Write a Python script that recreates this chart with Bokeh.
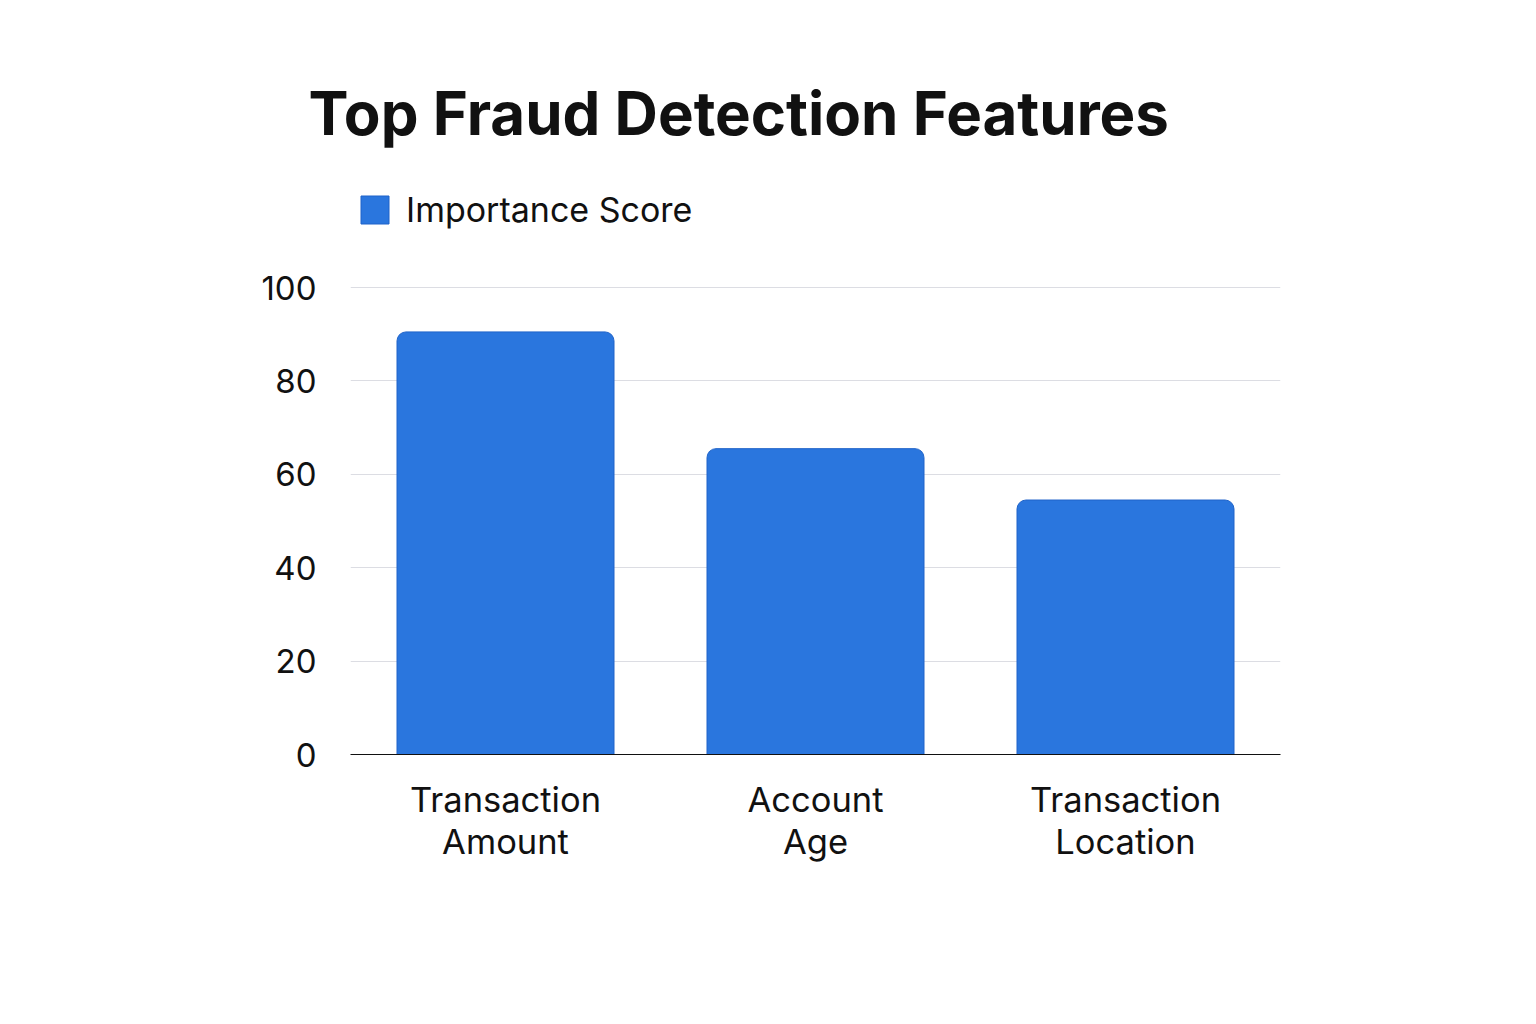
from bokeh.plotting import figure
from bokeh.models import Range1d, Legend, LegendItem, ColumnDataSource
from bokeh.embed import file_html
from bokeh.resources import INLINE

# ---- data ----
features = ["Transaction\nAmount", "Account\nAge", "Transaction\nLocation"]
importance = [90.5, 65.5, 54.5]
y_ticks = [0, 20, 40, 60, 80, 100]
title_text = "Top Fraud Detection Features"
series_name = "Importance Score"

BAR = "#2a76de"
BAR_EDGE = "#1f63c9"
FONT = "Inter"

src = ColumnDataSource(data=dict(feature=features, value=importance))

p = figure(
    x_range=features,
    y_range=Range1d(0, 125.5),
    width=1520, height=1000,
    output_backend="svg", toolbar_location=None,
    min_border_left=350, min_border_right=240,
    min_border_top=168, min_border_bottom=246,
    title=title_text,
)
p.background_fill_color = "white"
p.border_fill_color = "white"
p.outline_line_color = None

r = p.vbar(x="feature", top="value", width=0.70, source=src,
           fill_color=BAR, line_color=BAR_EDGE, line_width=1,
           border_radius=(9, 9, 0, 0))

# title
p.title.text_font = FONT
p.title.text_font_size = "60px"
p.title.text_font_style = "bold"
p.title.text_color = "#111111"
p.title.align = "left"
p.title.offset = -42
p.title.standoff = 40

# grid
p.xgrid.grid_line_color = None
p.ygrid.grid_line_color = "#dcdde3"
p.ygrid.grid_line_width = 1
p.yaxis.ticker = y_ticks

# axes
p.yaxis.axis_line_color = None
p.yaxis.major_tick_line_color = None
p.yaxis.major_tick_out = 0
p.yaxis.major_tick_in = 0
p.yaxis.minor_tick_line_color = None
p.yaxis.major_label_standoff = 34
p.yaxis.major_label_text_font = FONT
p.yaxis.major_label_text_font_size = "33px"
p.yaxis.major_label_text_color = "#111111"

p.xaxis.axis_line_color = "#111111"
p.xaxis.axis_line_width = 1.2
p.xaxis.major_tick_line_color = None
p.xaxis.major_tick_out = 0
p.xaxis.major_tick_in = 0
p.xaxis.minor_tick_line_color = None
p.xaxis.major_label_standoff = 24
p.xaxis.major_label_text_font = FONT
p.xaxis.major_label_text_font_size = "34.5px"
p.xaxis.major_label_text_color = "#111111"
p.xaxis.major_label_text_line_height = 1.04

# legend
legend = Legend(items=[LegendItem(label=series_name, renderers=[r])],
                location=(7, 524), orientation="horizontal",
                padding=0, margin=0, spacing=0,
                glyph_width=35, glyph_height=35, label_standoff=14,
                label_text_font=FONT, label_text_font_size="34px",
                label_text_color="#111111",
                border_line_color=None, background_fill_alpha=0)
p.add_layout(legend)

open("out.html", "w").write(file_html(p, INLINE))
